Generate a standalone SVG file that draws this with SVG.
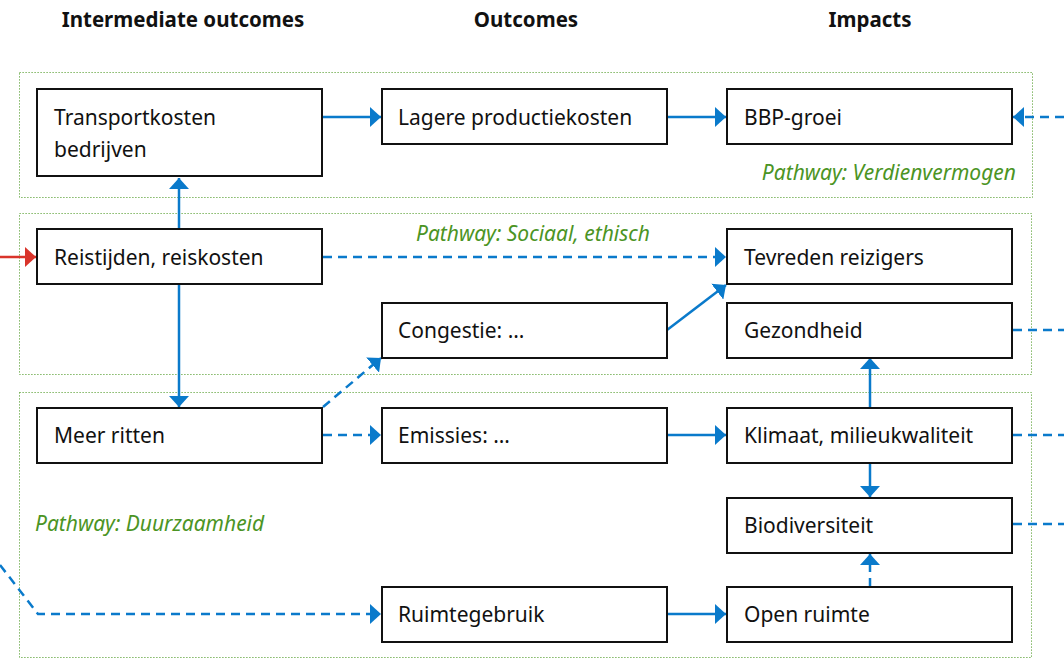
<svg xmlns="http://www.w3.org/2000/svg" width="1064" height="659" viewBox="0 0 1064 659">
<style>
.hdr{font-family:"Noto Sans","Liberation Sans",sans-serif;font-weight:bold;font-size:20.5px;fill:#111;text-anchor:middle}
.box{fill:#fff;stroke:#111;stroke-width:2}
.lbl{font-family:"Noto Sans","Liberation Sans",sans-serif;font-size:21px;fill:#111}
.grp{fill:none;stroke:#5fa33a;stroke-width:1;stroke-dasharray:1.2,1.8}
.pw{font-family:"Noto Sans","Liberation Sans",sans-serif;font-style:italic;font-size:21px;fill:#4b9424}
.c{fill:none;stroke:#0a7acb;stroke-width:2.5}
.d{stroke-dasharray:9,6}
</style>
<defs>
<marker id="ah" markerUnits="userSpaceOnUse" markerWidth="11" markerHeight="20" refX="11" refY="10" orient="auto">
<path d="M0,0 L11,10 L0,20 z" fill="#0a7acb"/>
</marker>
<marker id="ahr" markerUnits="userSpaceOnUse" markerWidth="11" markerHeight="20" refX="11" refY="10" orient="auto">
<path d="M0,0 L11,10 L0,20 z" fill="#d9342b"/>
</marker>
</defs>
<rect width="1064" height="659" fill="#fff"/>
<g id="headers">
<text class="hdr" x="183" y="27">Intermediate outcomes</text>
<text class="hdr" x="526" y="27">Outcomes</text>
<text class="hdr" x="870" y="27">Impacts</text>
</g>
<g id="pathways">
<rect class="grp" x="19.5" y="72.5" width="1013" height="125"/>
<rect class="grp" x="19.5" y="213.5" width="1012" height="161"/>
<rect class="grp" x="19.5" y="392.5" width="1012" height="265"/>
<text class="pw" x="1016" y="180" text-anchor="end">Pathway: Verdienvermogen</text>
<text class="pw" x="416" y="241">Pathway: Sociaal, ethisch</text>
<text class="pw" x="35" y="531">Pathway: Duurzaamheid</text>
</g>
<g id="connectors">
<path class="c" d="M323,117 H381" marker-end="url(#ah)"/>
<path class="c" d="M667,117 H726" marker-end="url(#ah)"/>
<path class="c d" d="M1064,117 H1013" marker-end="url(#ah)"/>
<path class="c" d="M179,229 V178" marker-end="url(#ah)"/>
<path class="c" d="M179,285 V407" marker-end="url(#ah)"/>
<path d="M0,257 H36" fill="none" stroke="#d9342b" stroke-width="2.5" marker-end="url(#ahr)"/>
<path class="c d" d="M323,257 H726" marker-end="url(#ah)"/>
<path class="c" d="M667,330 L726,285" marker-end="url(#ah)"/>
<path class="c d" d="M323,407 L381,358" marker-end="url(#ah)"/>
<path class="c d" d="M323,435 H381" marker-end="url(#ah)"/>
<path class="c" d="M667,435 H726" marker-end="url(#ah)"/>
<path class="c" d="M870,407 V358" marker-end="url(#ah)"/>
<path class="c" d="M870,464 V497" marker-end="url(#ah)"/>
<path class="c d" d="M870,587 V554" marker-end="url(#ah)"/>
<path class="c" d="M667,614 H726" marker-end="url(#ah)"/>
<path class="c d" d="M0,565 L38,614 H381" marker-end="url(#ah)"/>
<path class="c d" d="M1013,330 H1064"/>
<path class="c d" d="M1013,435 H1064"/>
<path class="c d" d="M1013,524 H1064"/>
</g>
<g id="n-transportkosten"><rect class="box" x="37" y="89" width="285" height="87"/><text class="lbl" x="54" y="125">Transportkosten</text><text class="lbl" x="54" y="157">bedrijven</text></g>
<g id="n-lagere"><rect class="box" x="382" y="89" width="285" height="55"/><text class="lbl" x="398" y="125">Lagere productiekosten</text></g>
<g id="n-bbp"><rect class="box" x="727" y="89" width="285" height="55"/><text class="lbl" x="744" y="125">BBP-groei</text></g>
<g id="n-reistijden"><rect class="box" x="37" y="229" width="285" height="55"/><text class="lbl" x="54" y="265">Reistijden, reiskosten</text></g>
<g id="n-tevreden"><rect class="box" x="727" y="229" width="285" height="55"/><text class="lbl" x="744" y="265">Tevreden reizigers</text></g>
<g id="n-congestie"><rect class="box" x="382" y="303" width="285" height="55"/><text class="lbl" x="398" y="338">Congestie: …</text></g>
<g id="n-gezondheid"><rect class="box" x="727" y="303" width="285" height="55"/><text class="lbl" x="744" y="338">Gezondheid</text></g>
<g id="n-meer"><rect class="box" x="37" y="408" width="285" height="55"/><text class="lbl" x="54" y="443">Meer ritten</text></g>
<g id="n-emissies"><rect class="box" x="382" y="408" width="285" height="55"/><text class="lbl" x="398" y="443">Emissies: …</text></g>
<g id="n-klimaat"><rect class="box" x="727" y="408" width="285" height="55"/><text class="lbl" x="744" y="443">Klimaat, milieukwaliteit</text></g>
<g id="n-biodiversiteit"><rect class="box" x="727" y="498" width="285" height="55"/><text class="lbl" x="744" y="533">Biodiversiteit</text></g>
<g id="n-ruimtegebruik"><rect class="box" x="382" y="587" width="285" height="55"/><text class="lbl" x="398" y="622">Ruimtegebruik</text></g>
<g id="n-open"><rect class="box" x="727" y="587" width="285" height="55"/><text class="lbl" x="744" y="622">Open ruimte</text></g>
</svg>
